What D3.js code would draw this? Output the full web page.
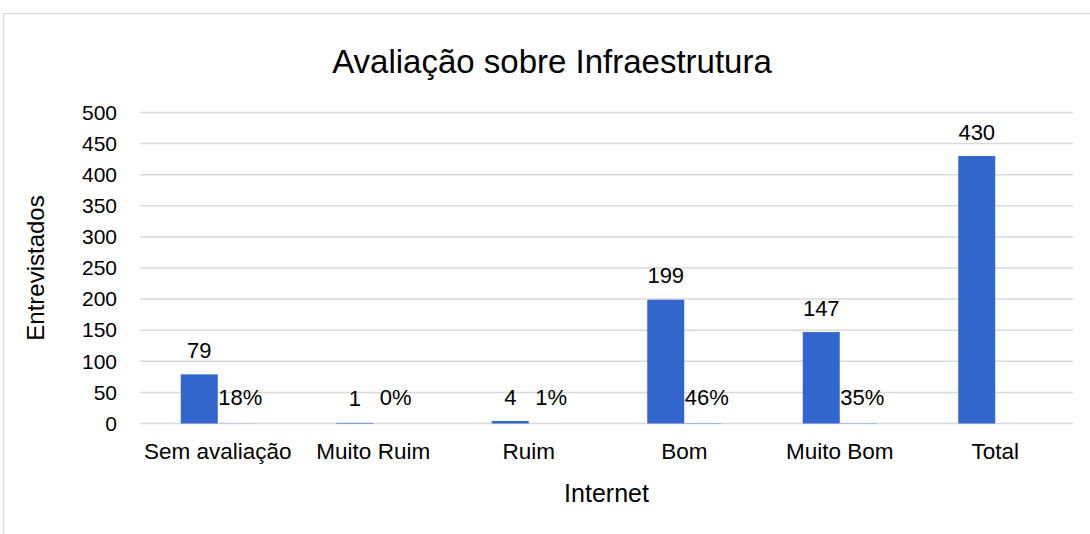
<!DOCTYPE html>
<html>
<head>
<meta charset="utf-8">
<script src="https://cdn.jsdelivr.net/npm/d3@7"></script>
<style>
  body { margin: 0; background: #fff; }
  svg text { font-family: "Liberation Sans", Arial, sans-serif; fill: #000; }
</style>
</head>
<body>
<div id="chart"></div>
<script>
  'use strict';

  var categories = ['Sem avaliação', 'Muito Ruim', 'Ruim', 'Bom', 'Muito Bom', 'Total'];
  var counts = [79, 1, 4, 199, 147, 430];
  var shares = [0.18, 0.00, 0.01, 0.46, 0.35];
  var shareLabels = ['18%', '0%', '1%', '46%', '35%'];
  var yTicks = [0, 50, 100, 150, 200, 250, 300, 350, 400, 450, 500];

  var width = 1090, height = 534;
  var plot = { left: 140, right: 1073, top: 112.5, bottom: 423.5 };

  var $svg = d3.select('#chart')
    .append('svg')
    .attr('width', width)
    .attr('height', height);

  // chart area frame (cropped on right/bottom)
  $svg.append('rect')
    .attr('x', 3.5).attr('y', 13.5)
    .attr('width', 1200).attr('height', 600)
    .attr('fill', '#fff')
    .attr('stroke', '#d9d9d9')
    .attr('stroke-width', 1.3);

  var y = d3.scaleLinear().domain([0, 500]).range([plot.bottom, plot.top]);
  var x0 = d3.scaleBand().domain(categories).range([plot.left, plot.right]);
  var barW = 37;
  var x1 = d3.scaleBand().domain(['count', 'share'])
    .range([(x0.bandwidth() - 2 * barW) / 2, (x0.bandwidth() + 2 * barW) / 2]);

  // gridlines
  $svg.append('g')
    .selectAll('line')
    .data(yTicks)
    .enter().append('line')
    .attr('x1', plot.left).attr('x2', plot.right)
    .attr('y1', function(d) { return y(d); })
    .attr('y2', function(d) { return y(d); })
    .attr('stroke', '#d9d9d9')
    .attr('stroke-width', 1.5);

  // y axis labels
  var yAxis = d3.axisLeft(y).tickValues(yTicks).tickSize(0).tickPadding(23);
  var $yAxis = $svg.append('g')
    .attr('transform', 'translate(' + plot.left + ',0)')
    .call(yAxis);
  $yAxis.select('.domain').remove();
  $yAxis.selectAll('text')
    .style('font-family', '"Liberation Sans", Arial, sans-serif')
    .attr('font-size', 21);

  // x axis labels
  var xAxis = d3.axisBottom(x0).tickSize(0).tickPadding(20);
  var $xAxis = $svg.append('g')
    .attr('transform', 'translate(0,' + plot.bottom + ')')
    .call(xAxis);
  $xAxis.select('.domain').remove();
  $xAxis.selectAll('text')
    .style('font-family', '"Liberation Sans", Arial, sans-serif')
    .attr('font-size', 22.5);

  // count bars
  $svg.append('g')
    .selectAll('rect')
    .data(counts)
    .enter().append('rect')
    .attr('x', function(d, i) { return x0(categories[i]) + x1('count'); })
    .attr('y', function(d) { return y(d); })
    .attr('width', x1.bandwidth())
    .attr('height', function(d) { return y(0) - y(d); })
    .attr('fill', '#3366cc');

  // share bars (tiny on this scale)
  $svg.append('g')
    .selectAll('rect')
    .data(shares)
    .enter().append('rect')
    .attr('x', function(d, i) { return x0(categories[i]) + x1('share'); })
    .attr('y', function(d) { return y(d); })
    .attr('width', x1.bandwidth())
    .attr('height', function(d) { return y(0) - y(d); })
    .attr('fill', '#3366cc');

  // count labels
  $svg.append('g')
    .selectAll('text')
    .data(counts)
    .enter().append('text')
    .attr('x', function(d, i) { return x0(categories[i]) + x1('count') + x1.bandwidth() / 2; })
    .attr('y', function(d) { return y(d) - 24; })
    .attr('text-anchor', 'middle')
    .attr('dominant-baseline', 'central')
    .attr('font-size', 22)
    .text(function(d) { return d; });

  // share labels
  $svg.append('g')
    .selectAll('text')
    .data(shares)
    .enter().append('text')
    .attr('x', function(d, i) { return x0(categories[i]) + x1('share') + x1.bandwidth() / 2 + 4; })
    .attr('y', function(d) { return y(d) - 26; })
    .attr('text-anchor', 'middle')
    .attr('dominant-baseline', 'central')
    .attr('font-size', 22)
    .text(function(d, i) { return shareLabels[i]; });

  // title
  $svg.append('text')
    .attr('x', 552).attr('y', 61)
    .attr('text-anchor', 'middle')
    .attr('dominant-baseline', 'central')
    .attr('font-size', 33)
    .text('Avaliação sobre Infraestrutura');

  // axis titles
  $svg.append('text')
    .attr('x', (plot.left + plot.right) / 2).attr('y', 493)
    .attr('text-anchor', 'middle')
    .attr('dominant-baseline', 'central')
    .attr('font-size', 25)
    .text('Internet');

  $svg.append('text')
    .attr('transform', 'translate(35,' + (plot.top + plot.bottom) / 2 + ') rotate(-90)')
    .attr('text-anchor', 'middle')
    .attr('dominant-baseline', 'central')
    .attr('font-size', 24)
    .text('Entrevistados');
</script>
</body>
</html>
